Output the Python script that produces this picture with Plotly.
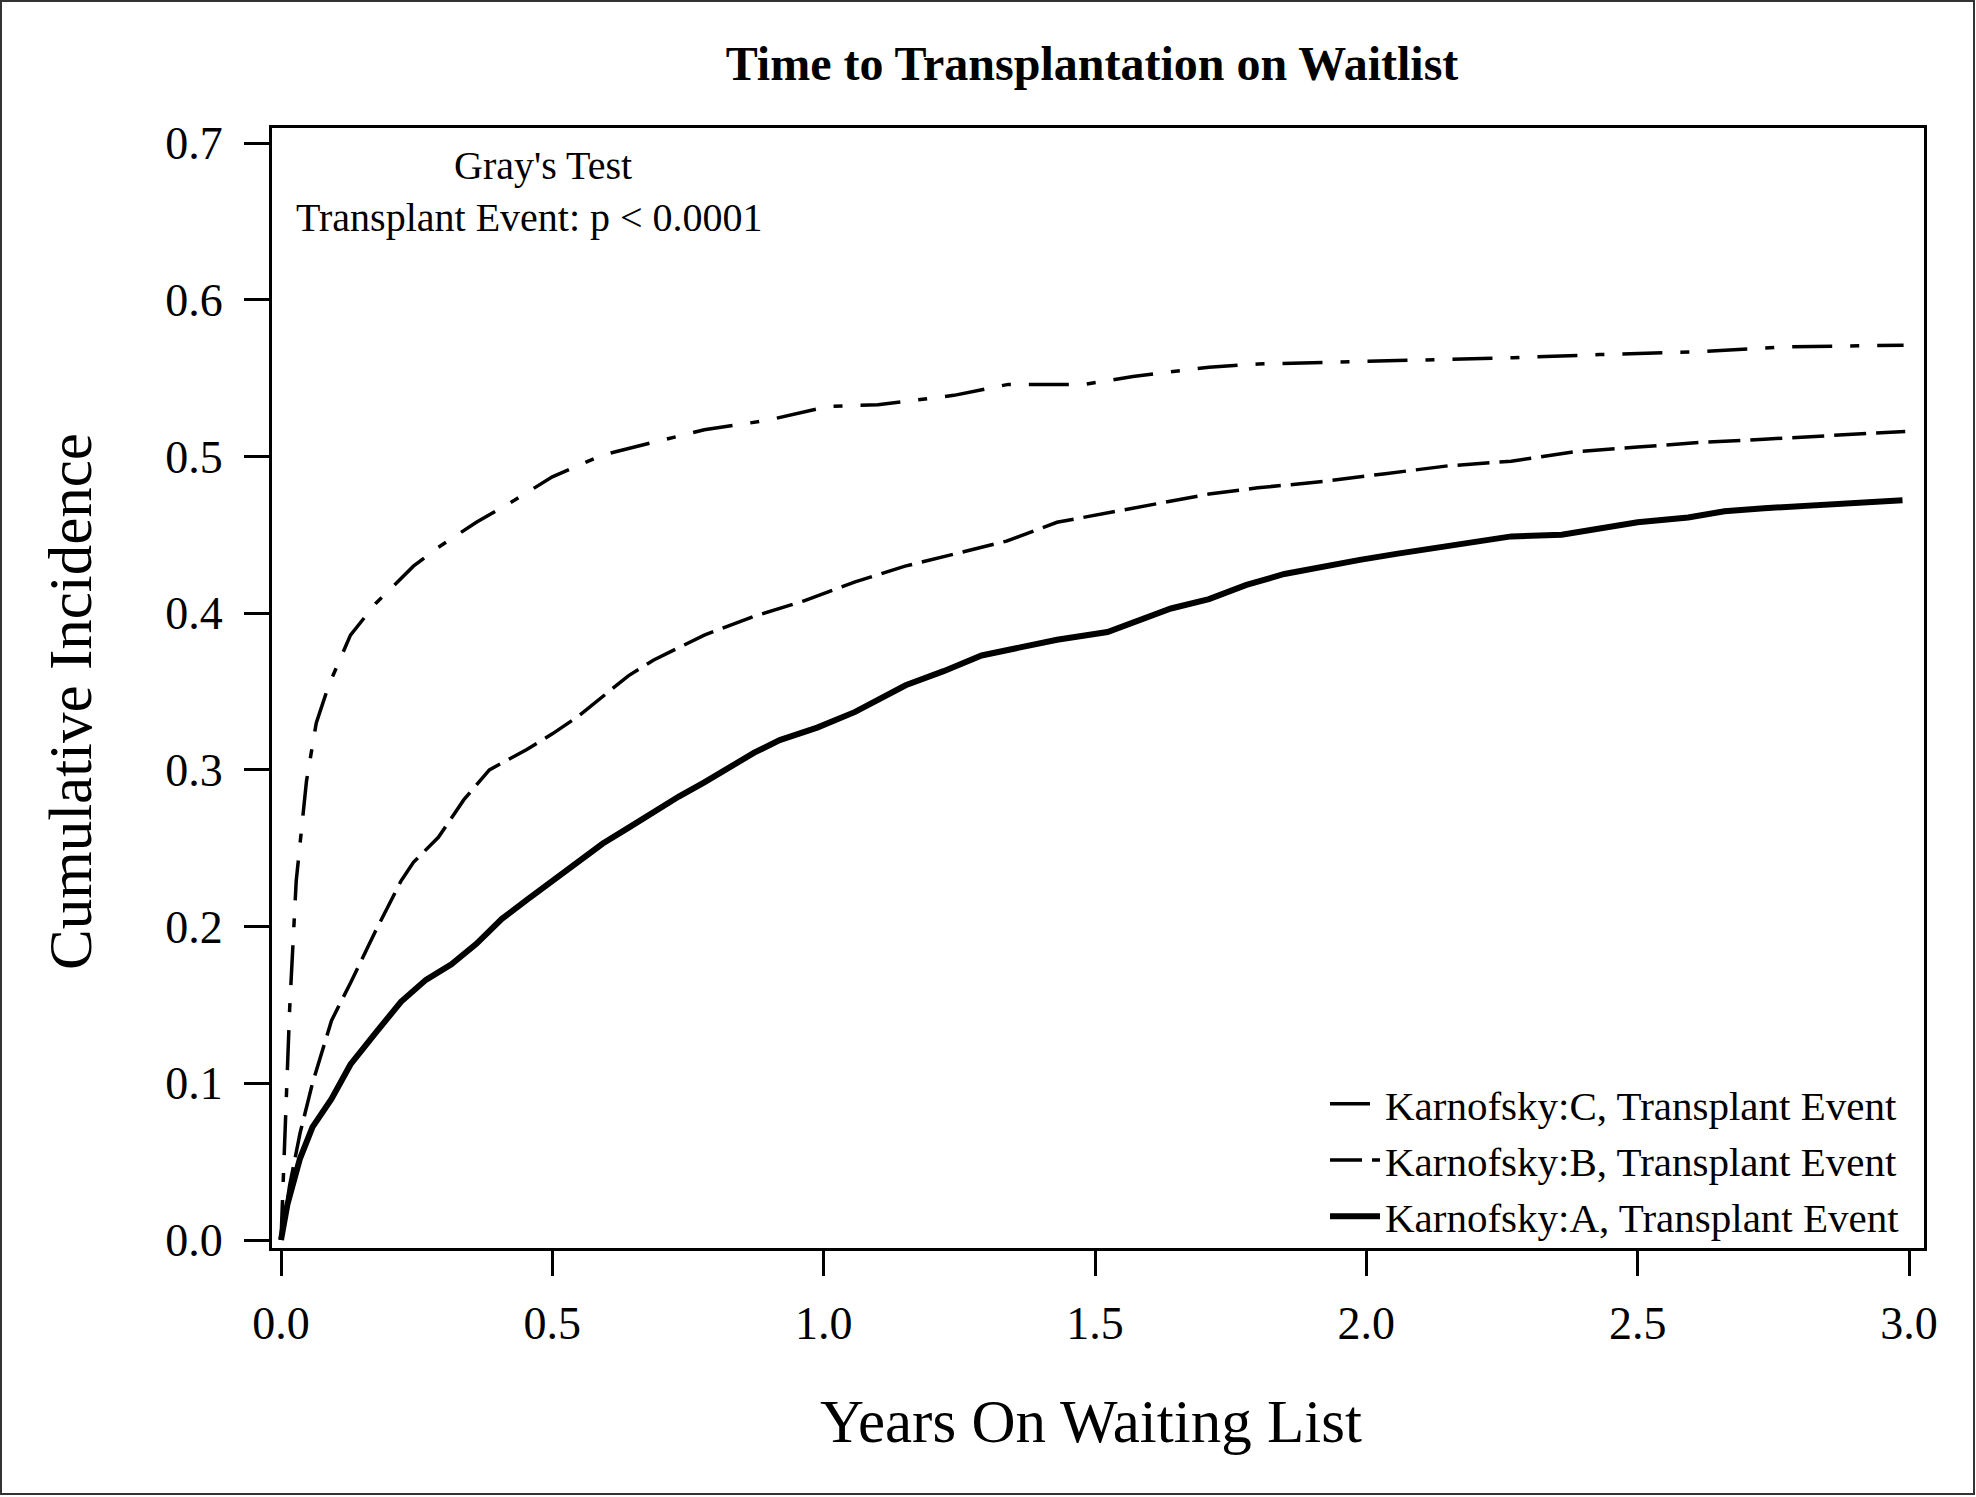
import plotly.graph_objects as go

# ---- data (years on waiting list, cumulative incidence) ----
years_c = [0.0, 0.008, 0.016, 0.028, 0.047, 0.065, 0.088, 0.128, 0.174, 0.244, 0.29, 0.36, 0.43, 0.5,
           0.593, 0.686, 0.78, 0.895, 1.01, 1.1, 1.24, 1.34, 1.48, 1.57, 1.71, 1.80, 2.03, 2.27,
           2.43, 2.62, 2.78, 2.99]
inc_c = [0.0, 0.08, 0.148, 0.229, 0.293, 0.33, 0.354, 0.386, 0.406, 0.43, 0.442, 0.458, 0.472, 0.487,
         0.501, 0.509, 0.517, 0.523, 0.532, 0.533, 0.539, 0.546, 0.546, 0.551, 0.557, 0.559, 0.561,
         0.563, 0.565, 0.567, 0.57, 0.571]

years_b = [0.0, 0.016, 0.035, 0.058, 0.093, 0.128, 0.174, 0.221, 0.244, 0.29, 0.337, 0.384, 0.453,
           0.5, 0.547, 0.593, 0.64, 0.686, 0.78, 0.872, 0.965, 1.058, 1.15, 1.244, 1.337, 1.43,
           1.523, 1.616, 1.71, 1.8, 1.92, 2.035, 2.15, 2.267, 2.384, 2.5, 2.616, 2.733, 2.85, 2.993]
inc_b = [0.0, 0.035, 0.068, 0.1, 0.14, 0.164, 0.197, 0.229, 0.241, 0.257, 0.281, 0.3, 0.313, 0.323,
         0.334, 0.347, 0.36, 0.37, 0.386, 0.398, 0.408, 0.42, 0.43, 0.438, 0.446, 0.458, 0.464, 0.47,
         0.476, 0.48, 0.484, 0.489, 0.494, 0.497, 0.503, 0.506, 0.509, 0.511, 0.513, 0.516]

years_a = [0.0, 0.012, 0.035, 0.058, 0.093, 0.128, 0.174, 0.221, 0.267, 0.314, 0.36, 0.407, 0.453,
           0.5, 0.547, 0.593, 0.64, 0.686, 0.733, 0.78, 0.826, 0.872, 0.919, 0.988, 1.058, 1.105,
           1.151, 1.221, 1.291, 1.36, 1.43, 1.523, 1.57, 1.64, 1.71, 1.779, 1.849, 1.92, 1.988,
           2.058, 2.128, 2.198, 2.267, 2.36, 2.43, 2.5, 2.593, 2.66, 2.733, 2.826, 2.919, 2.988]
inc_a = [0.0, 0.023, 0.052, 0.072, 0.09, 0.112, 0.132, 0.152, 0.166, 0.176, 0.189, 0.205, 0.217,
         0.229, 0.241, 0.253, 0.263, 0.273, 0.283, 0.292, 0.301, 0.311, 0.319, 0.327, 0.337, 0.346,
         0.354, 0.363, 0.373, 0.378, 0.383, 0.388, 0.394, 0.403, 0.409, 0.418, 0.425, 0.43, 0.434,
         0.438, 0.442, 0.446, 0.449, 0.45, 0.454, 0.458, 0.461, 0.465, 0.467, 0.469, 0.471, 0.472]

series_names = ["Karnofsky:C, Transplant Event",
                "Karnofsky:B, Transplant Event",
                "Karnofsky:A, Transplant Event"]
x_ticks = [0.0, 0.5, 1.0, 1.5, 2.0, 2.5, 3.0]
y_ticks = [0.0, 0.1, 0.2, 0.3, 0.4, 0.5, 0.6, 0.7]

# ---- layout geometry (pixels) ----
W, H = 1976, 1497
L, R, T, B = 272, 1924, 128, 1248
PW, PH = R - L, B - T


def px(xp):
    return (xp - L) / PW


def py(yp):
    return (B - yp) / PH


FONT = "Liberation Serif, Times New Roman, serif"

fig = go.Figure()
fig.add_trace(go.Scatter(x=years_c, y=inc_c, mode="lines", name=series_names[0],
                         line=dict(color="black", width=3.5, dash="40px,18px,9px,18px")))
fig.add_trace(go.Scatter(x=years_b, y=inc_b, mode="lines", name=series_names[1],
                         line=dict(color="black", width=3.5, dash="32px,10px")))
fig.add_trace(go.Scatter(x=years_a, y=inc_a, mode="lines", name=series_names[2],
                         line=dict(color="black", width=6)))

fig.update_layout(
    width=W, height=H,
    margin=dict(l=L, r=W - R, t=T, b=H - B, pad=0),
    paper_bgcolor="white", plot_bgcolor="white",
    font=dict(family=FONT, color="black", size=40),
    title=dict(text="<b>Time to Transplantation on Waitlist</b>",
               font=dict(family=FONT, size=48, color="black"),
               x=px(1092), xref="paper", xanchor="center",
               y=1 - 63 / H, yref="container", yanchor="middle"),
    showlegend=True,
    legend=dict(x=px(1325), xanchor="left", y=py(1160), yanchor="middle",
                bgcolor="rgba(0,0,0,0)", borderwidth=0, itemwidth=50,
                font=dict(family=FONT, size=41, color="black"),
                traceorder="normal"),
    xaxis=dict(range=[-0.0166, 3.0276], tickvals=x_ticks, tickformat=".1f",
               ticks="outside", ticklen=25, tickwidth=3, tickcolor="black",
               showline=True, linewidth=3, linecolor="black", mirror=True,
               showgrid=False, zeroline=False, ticklabelstandoff=8,
               tickfont=dict(family=FONT, size=46, color="black")),
    yaxis=dict(range=[-0.0051, 0.7096], tickvals=y_ticks, tickformat=".1f",
               ticks="outside", ticklen=25, tickwidth=3, tickcolor="black",
               showline=True, linewidth=3, linecolor="black", mirror=True,
               showgrid=False, zeroline=False, ticklabelstandoff=12,
               tickfont=dict(family=FONT, size=46, color="black")),
)

annos = [
    dict(text="Years On Waiting List", x=px(1091), y=py(1421), font=dict(size=61)),
    dict(text="Cumulative Incidence", x=px(70), y=py(702), textangle=-90, font=dict(size=61)),
    dict(text="Gray's Test", x=px(543), y=py(165), font=dict(size=40)),
    dict(text="Transplant Event: p < 0.0001", x=px(529), y=py(217), font=dict(size=40)),
]
for a in annos:
    fig.add_annotation(xref="paper", yref="paper", xanchor="center", yanchor="middle",
                       showarrow=False, **a)

# outer frame around the whole graphic
fig.add_shape(type="rect", xref="paper", yref="paper",
              x0=px(1), x1=px(1974), y0=py(1494), y1=py(1),
              line=dict(color="#333333", width=2), layer="below")

fig.write_html("out.html", config={"displayModeBar": False},
               post_script="document.body.style.margin='0';document.body.style.overflow='hidden';")
